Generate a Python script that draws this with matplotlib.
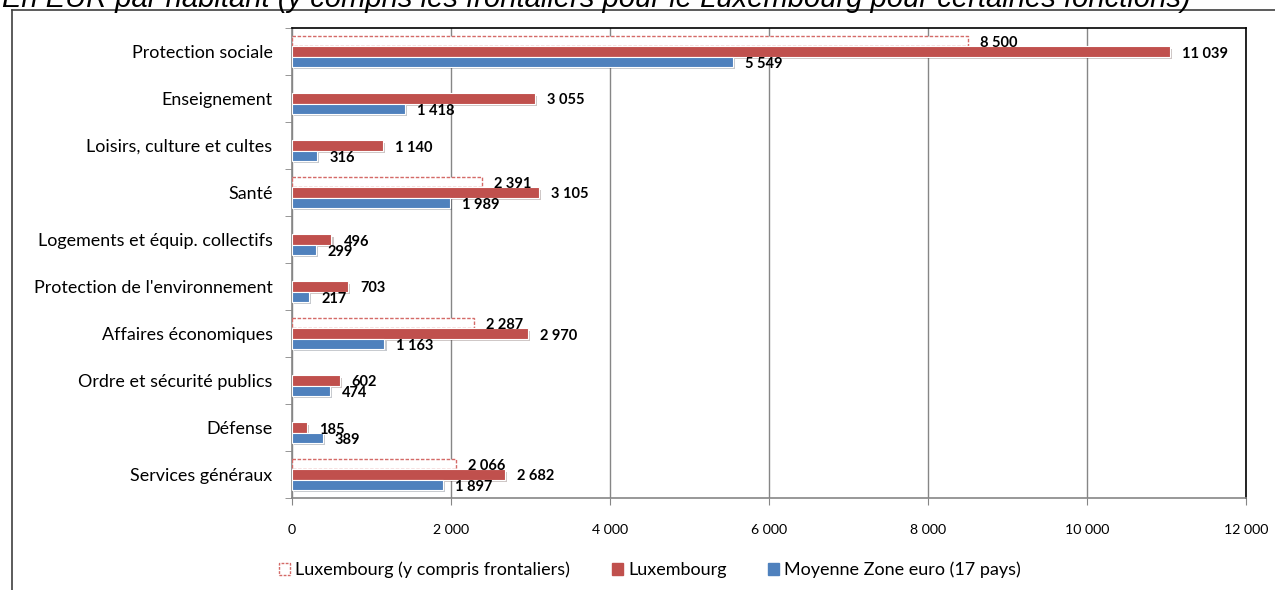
import numpy as np
import matplotlib
matplotlib.use("Agg")
import matplotlib.pyplot as plt
import matplotlib.patheffects as pe
from matplotlib.patches import Patch

# data
categories = ["Protection sociale", "Enseignement", "Loisirs, culture et cultes", "Santé",
              "Logements et équip. collectifs", "Protection de l'environnement",
              "Affaires économiques", "Ordre et sécurité publics", "Défense", "Services généraux"]
lux_frontaliers = [8500, np.nan, np.nan, 2391, np.nan, np.nan, 2287, np.nan, np.nan, 2066]
luxembourg = [11039, 3055, 1140, 3105, 496, 703, 2970, 602, 185, 2682]
zone_euro = [5549, 1418, 316, 1989, 299, 217, 1163, 474, 389, 1897]
x_ticks = [0, 2000, 4000, 6000, 8000, 10000, 12000]

series_names = ["Luxembourg (y compris frontaliers)", "Luxembourg", "Moyenne Zone euro (17 pays)"]

RED = "#C0504D"
BLUE = "#4F81BD"
GRID = "#868686"

plt.rcParams["font.family"] = ["Lato", "DejaVu Sans"]

fig = plt.figure(figsize=(12.75, 5.9), dpi=100)

# outer frame (only left and top visible in the crop)
fig.add_artist(plt.Line2D([12 / 1275, 12 / 1275], [0, 1 - 10 / 590], color="#404040", lw=1.2))
fig.add_artist(plt.Line2D([12 / 1275, 1], [1 - 10 / 590, 1 - 10 / 590], color="#404040", lw=1.2))

# title, cut by the top edge
fig.text(2 / 1275, 1 - 7 / 590,
         "En EUR par habitant (y compris les frontaliers pour le Luxembourg pour certaines fonctions)",
         family="Liberation Sans", style="italic", fontsize=21, va="baseline", ha="left")

ax = fig.add_axes([292 / 1275, 1 - 498 / 590, (1246 - 292) / 1275, (498 - 28) / 590])

y = np.arange(len(categories))
h = 0.215
off = 0.225
shadow = [pe.SimplePatchShadow(offset=(1.5, -1.5), alpha=0.25), pe.Normal()]

b_front = ax.barh(y - off, lux_frontaliers, height=h, facecolor="white", edgecolor="#D46A67",
                  linestyle=(0, (2.5, 1.2)), linewidth=1.0, zorder=3)
b_lux = ax.barh(y, luxembourg, height=h, color=RED, edgecolor="white", linewidth=0.8, zorder=3)
b_eur = ax.barh(y + off, zone_euro, height=h, color=BLUE, edgecolor="white", linewidth=0.8, zorder=3)
for bars in (b_lux, b_eur):
    for p in bars:
        p.set_path_effects(shadow)


def fmt(v):
    return f"{int(v):,}".replace(",", " ")


for vals, dy in ((lux_frontaliers, -off), (luxembourg, 0), (zone_euro, off)):
    for i, v in enumerate(vals):
        if np.isnan(v):
            continue
        ax.annotate(fmt(v), (v, i + dy), xytext=(12, -2), textcoords="offset pixels",
                    ha="left", va="center", fontsize=10.5, fontweight="bold", zorder=4)

ax.set_xlim(0, 12000)
ax.set_ylim(len(categories) - 0.5, -0.5)
ax.set_xticks(x_ticks)
ax.set_xticklabels([fmt(t) for t in x_ticks], fontsize=10.2)
ax.set_yticks(y)
ax.set_yticklabels(categories, fontsize=12.9)
ax.set_yticks(np.arange(len(categories) + 1) - 0.5, minor=True)
ax.tick_params(axis="y", which="major", length=0, pad=14)
ax.tick_params(axis="y", which="minor", length=5, color=GRID, direction="out")
ax.tick_params(axis="x", length=5, color=GRID, direction="out", pad=14)

ax.grid(axis="x", color=GRID, lw=1, zorder=0)
ax.set_axisbelow(True)
for s in ("left", "bottom"):
    ax.spines[s].set_color(GRID)
    ax.spines[s].set_linewidth(1.2)
for s in ("top", "right"):
    ax.spines[s].set_color("black")
    ax.spines[s].set_linewidth(1.2)

handles = [Patch(facecolor="white", edgecolor="#D46A67", linestyle=(0, (2, 1)), linewidth=1.0),
           Patch(facecolor=RED, edgecolor=RED),
           Patch(facecolor=BLUE, edgecolor=BLUE)]
fig.legend(handles, series_names, loc="center", bbox_to_anchor=(650 / 1275, 1 - 570 / 590),
           ncol=3, frameon=False, fontsize=13.0, handlelength=0.6, handleheight=0.6,
           handletextpad=0.3, columnspacing=2.3)

fig.savefig("out.png", dpi=100)
